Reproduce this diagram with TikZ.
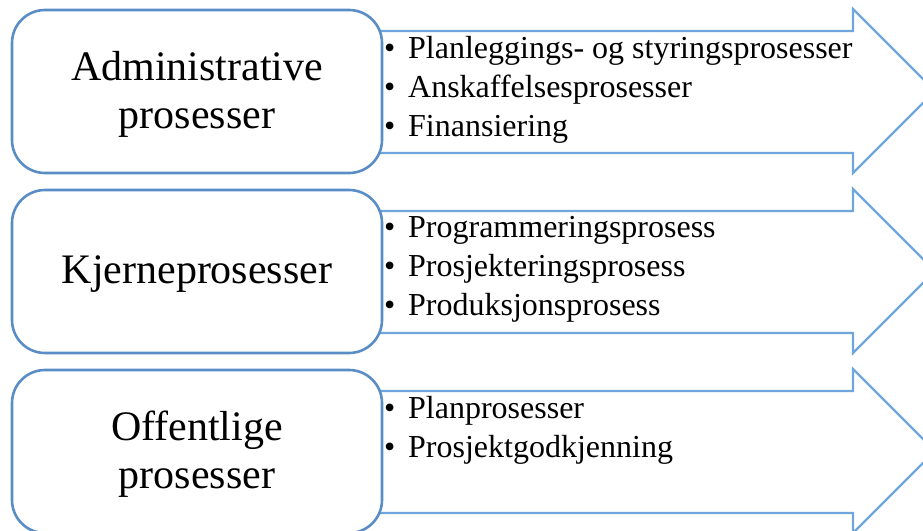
\documentclass[tikz,border=0pt]{standalone}
\usepackage{fontspec}
\setmainfont{Liberation Serif}
\definecolor{boxline}{HTML}{5A8DC6}
\definecolor{arrowline}{HTML}{6FA6DB}
\tikzset{
  x=1pt, y=-1pt,
  procbox/.style={draw=boxline, line width=2.6pt, fill=white, rounded corners=33pt},
  procarrow/.style={draw=arrowline, line width=2.2pt, fill=white, line join=miter},
  boxlabel/.style={font=\fontsize{42}{48}\selectfont, align=center, anchor=center, inner sep=0pt},
  itemlist/.style={font=\fontsize{32}{38.7}\selectfont, align=left, anchor=north west, inner sep=0pt},
}
% one row: arrow with its item list, and the rounded box with the process name
\newcommand{\procrow}[4]{%
  \begin{scope}[yshift=-#1pt]
    \draw[procarrow] (379,31) -- (853,31) -- (853,9) -- (935,91) -- (853,173)
      -- (853,153) -- (379,153) -- cycle;
    \draw[procbox] (12,10) rectangle (382,173);
    \node[boxlabel] (#2) at (197,94.5) {#3};
    \node[itemlist] (#2items) at (384,36.5) {#4};
  \end{scope}}
\newcommand{\itm}[1]{\makebox[24pt][l]{\textbullet}#1}
\begin{document}
\begin{tikzpicture}
  \useasboundingbox (0,0) rectangle (923,530);
  \clip (0,0) rectangle (923,530);
  \procrow{0}{adm}{Administrative\\prosesser}
    {\itm{Planleggings- og styringsprosesser}\\\itm{Anskaffelsesprosesser}\\\itm{Finansiering}}
  \procrow{180}{kjerne}{Kjerneprosesser}
    {\itm{Programmeringsprosess}\\\itm{Prosjekteringsprosess}\\\itm{Produksjonsprosess}}
  \procrow{360}{off}{Offentlige\\prosesser}
    {\itm{Planprosesser}\\\itm{Prosjektgodkjenning}}
\end{tikzpicture}
\end{document}
